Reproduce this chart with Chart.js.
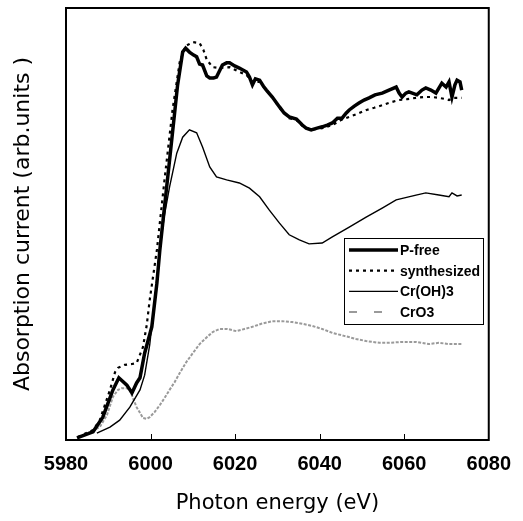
<!DOCTYPE html>
<html>
<head>
<meta charset="utf-8">
<script src="https://cdn.jsdelivr.net/npm/chart.js@4"></script>
<style>
  html, body { margin: 0; padding: 0; background: #fff; }
  #wrap { width: 523px; height: 521px; }
</style>
</head>
<body>
<div id="wrap"><canvas id="xanes"></canvas></div>
<script>
// photon energy (eV) / absorption (arb. units)
var pfreeE = [5982.6,5986.4,5988.7,5991.1,5992.5,5994.4,5995.6,5996.7,5997.5,5998.6,6000.3,6001.5,6002.2,6004.5,6006.4,6007.6,6008.3,6009.2,6010.2,6010.9,6011.6,6012.3,6013.3,6014.0,6014.9,6015.6,6017.0,6018.0,6018.7,6019.9,6021.0,6022.7,6023.4,6024.1,6024.8,6025.8,6026.7,6027.4,6028.8,6030.5,6031.6,6032.8,6034.5,6035.9,6036.8,6038.0,6039.4,6040.6,6041.8,6043.0,6044.2,6045.3,6046.3,6047.0,6048.2,6049.3,6050.5,6051.7,6053.1,6054.8,6056.4,6058.1,6058.8,6059.5,6060.4,6061.1,6063.0,6064.2,6065.1,6066.3,6067.5,6068.9,6069.9,6070.6,6071.3,6072.0,6072.5,6073.2,6073.6];
var pfreeV = [0.5,1.9,5.3,11.6,14.4,12.7,10.9,13.2,14.4,20.1,26.2,36.3,44.0,64.8,82.2,89.8,90.7,89.8,89.1,88.7,87.0,86.8,84.3,83.8,83.8,84.0,86.8,87.3,87.3,86.6,86.1,85.2,84.0,82.2,83.6,83.3,81.9,81.0,79.4,77.1,75.7,74.8,74.3,72.9,72.2,71.8,72.2,72.5,72.9,73.4,74.5,74.5,75.7,76.4,77.3,78.0,78.7,79.2,79.9,80.3,81.0,81.7,80.3,79.4,80.3,80.6,79.9,81.0,81.5,81.0,80.3,82.6,81.7,82.9,79.4,82.2,83.3,82.9,81.0];

var synthE = [5982.8,5986.4,5988.0,5990.4,5991.6,5992.3,5993.9,5995.6,5996.7,5998.2,5999.1,5999.8,6001.5,6003.3,6005.2,6006.9,6008.3,6010.0,6011.6,6012.5,6013.3,6014.7,6016.3,6018.7,6021.0,6022.7,6024.1,6025.8,6027.4,6028.8,6030.5,6032.8,6034.5,6035.9,6038.0,6040.6,6043.0,6045.1,6047.0,6048.9,6051.1,6052.9,6054.8,6056.9,6058.8,6060.7,6062.8,6064.7,6066.6,6068.2,6069.9,6070.6,6071.7,6073.6];
var synthV = [0.7,2.3,4.6,11.6,15.7,16.7,17.4,17.6,17.8,21.5,26.6,32.4,44.0,60.2,76.4,87.5,91.2,92.1,91.9,90.3,88.0,86.3,86.1,86.3,85.2,84.5,82.9,82.9,81.0,79.4,76.9,74.5,74.1,72.7,71.8,72.2,72.9,74.1,74.8,75.5,76.4,76.9,77.5,78.2,78.7,78.9,79.2,79.4,79.4,79.2,78.9,78.7,79.2,79.2];

var crohE = [5987.3,5990.4,5992.7,5995.1,5997.5,5998.6,5999.8,6001.0,6002.2,6003.3,6004.5,6006.2,6007.6,6009.2,6010.9,6012.3,6014.0,6015.6,6018.0,6021.0,6023.4,6025.8,6028.1,6030.5,6032.8,6035.2,6037.5,6040.6,6043.0,6047.0,6051.0,6054.8,6058.1,6062.8,6065.1,6068.2,6070.6,6071.3,6072.5,6073.6];
var crohV = [1.6,3.0,4.6,7.6,11.6,15.0,22.0,32.4,44.4,52.1,58.6,66.4,70.1,71.8,71.1,67.8,63.2,60.9,60.2,59.5,58.3,56.3,53.2,50.2,47.5,46.3,45.4,45.6,47.0,49.3,51.6,53.7,55.6,56.7,57.2,56.7,56.3,57.2,56.5,56.7];

var cro3E = [5983.3,5988.0,5989.7,5991.1,5992.3,5993.2,5994.4,5995.1,5996.0,5996.7,5997.5,5998.2,5999.1,5999.8,6001.0,6002.2,6003.3,6004.5,6005.7,6006.9,6008.5,6010.0,6011.6,6013.3,6014.7,6016.3,6018.2,6020.3,6022.2,6024.1,6026.2,6028.8,6031.2,6033.5,6035.9,6038.3,6040.6,6043.0,6045.8,6048.6,6051.0,6054.1,6056.4,6059.5,6062.8,6065.8,6068.2,6070.6,6073.6];
var cro3V = [0.7,3.0,5.8,10.0,11.6,12.0,12.0,11.6,9.3,7.6,6.3,5.1,4.9,5.3,6.5,8.1,9.7,11.6,13.4,15.5,18.1,20.1,22.2,23.8,25.0,25.7,25.7,25.2,25.7,26.2,26.9,27.5,27.5,27.3,26.9,26.4,25.7,24.8,24.1,23.4,22.9,22.5,22.5,22.7,22.7,22.2,22.5,22.2,22.2];

var seriesNames = ["P-free", "synthesized", "Cr(OH)3", "CrO3"];
var xTicks = [5980, 6000, 6020, 6040, 6060, 6080];

function pts(xs, ys) {
  var out = [];
  for (var i = 0; i < xs.length; i++) out.push({ x: xs[i], y: ys[i] });
  return out;
}

// frame, inner ticks and the boxed legend
var decor = {
  id: 'decor',
  afterDraw: function(chart) {
    var ctx = chart.ctx, a = chart.chartArea, xs = chart.scales.x;
    ctx.save();
    ctx.strokeStyle = '#000';
    ctx.lineWidth = 2;
    ctx.strokeRect(a.left, a.top, a.right - a.left, a.bottom - a.top);
    ctx.lineWidth = 1;
    xTicks.forEach(function(t) {
      if (t === xTicks[0] || t === xTicks[xTicks.length - 1]) return;
      var px = Math.round(xs.getPixelForValue(t)) + 0.5;
      ctx.beginPath();
      ctx.moveTo(px, a.bottom);
      ctx.lineTo(px, a.bottom - 6);
      ctx.stroke();
    });

    var bx = a.left + 278, by = a.top + 230, bw = 139, bh = 86;
    ctx.fillStyle = '#fff';
    ctx.fillRect(bx, by, bw, bh);
    ctx.lineWidth = 1;
    ctx.strokeStyle = '#000';
    ctx.strokeRect(bx + 0.5, by + 0.5, bw, bh);
    ctx.font = 'bold 14px "Liberation Sans", Arial, sans-serif';
    ctx.textBaseline = 'middle';
    chart.data.datasets.forEach(function(ds, i) {
      var y = by + 12 + i * 20.7;
      ctx.strokeStyle = ds.borderColor;
      ctx.lineWidth = ds.borderWidth;
      ctx.setLineDash(ds.legendDash || ds.borderDash || []);
      ctx.beginPath();
      ctx.moveTo(bx + 5, y);
      ctx.lineTo(bx + 54, y);
      ctx.stroke();
      ctx.setLineDash([]);
      ctx.fillStyle = '#000';
      ctx.fillText(ds.label, bx + 56, y + 1);
    });
    ctx.restore();
  }
};

new Chart(document.getElementById('xanes'), {
  type: 'line',
  data: {
    datasets: [
      { label: seriesNames[0], data: pts(pfreeE, pfreeV), borderColor: '#000', borderWidth: 3.5 },
      { label: seriesNames[1], data: pts(synthE, synthV), borderColor: '#000', borderWidth: 2.2, borderDash: [3, 4] },
      { label: seriesNames[2], data: pts(crohE, crohV), borderColor: '#000', borderWidth: 1.4 },
      { label: seriesNames[3], data: pts(cro3E, cro3V), borderColor: '#9a9a9a', borderWidth: 2, borderDash: [3, 1.5], legendDash: [8, 17] }
    ]
  },
  options: {
    responsive: true,
    maintainAspectRatio: false,
    animation: false,
    elements: { point: { radius: 0 }, line: { tension: 0, fill: false } },
    layout: { padding: { top: 8, right: 33, left: 0, bottom: 0 } },
    plugins: { legend: { display: false }, tooltip: { enabled: false } },
    scales: {
      x: {
        type: 'linear',
        min: 5980, max: 6080,
        afterBuildTicks: function(s) { s.ticks = xTicks.map(function(v) { return { value: v }; }); },
        afterFit: function(s) { s.height = 81; },
        grid: { display: false, drawTicks: false },
        border: { display: false },
        ticks: {
          padding: 12,
          color: '#000',
          font: { family: '"Liberation Sans", Arial, sans-serif', size: 20, weight: 'bold' },
          maxRotation: 0,
          callback: function(v) { return String(v); }
        },
        title: {
          display: true,
          text: 'Photon energy (eV)',
          color: '#000',
          font: { family: '"DejaVu Sans", sans-serif', size: 21 },
          padding: { top: 0, bottom: 5 }
        }
      },
      y: {
        min: 0, max: 100,
        afterFit: function(s) { s.width = 66; },
        grid: { display: false, drawTicks: false },
        border: { display: false },
        ticks: { display: false },
        title: {
          display: true,
          text: 'Absorption current (arb.units )',
          color: '#000',
          font: { family: '"DejaVu Sans", sans-serif', size: 22 },
          padding: { top: 10, bottom: 0 }
        }
      }
    }
  },
  plugins: [decor]
});
</script>
</body>
</html>
